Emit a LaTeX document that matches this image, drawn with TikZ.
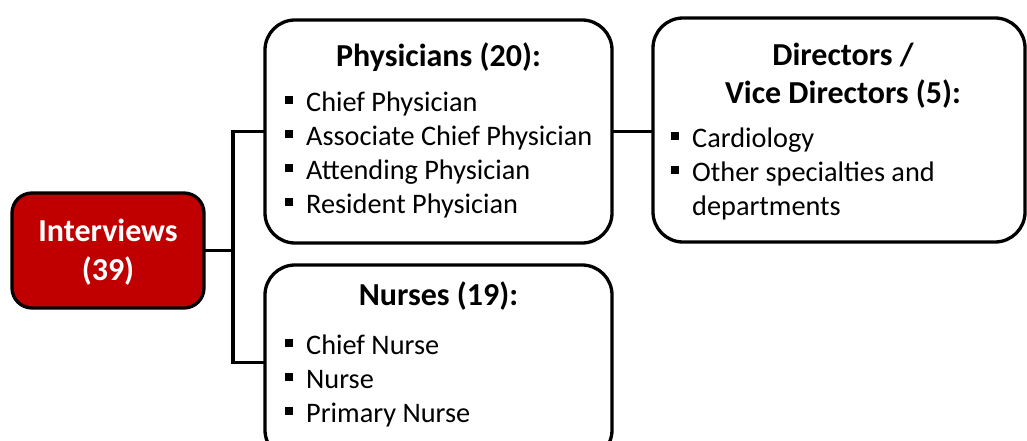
\documentclass[tikz,border=0pt]{standalone}
\usepackage{fontspec}
\setmainfont{Carlito}
\usetikzlibrary{positioning}

\definecolor{boxred}{RGB}{192,0,0}
% square bullet with its gap before the text
\newcommand{\sqitem}{\makebox[21pt][l]{\rule[7pt]{8pt}{8pt}}}

\tikzset{
  box/.style={draw, line width=3.3pt, rounded corners=30pt, outer sep=0pt, fill=white},
  rootbox/.style={box, fill=boxred, rounded corners=20pt},
  title/.style={font=\fontsize{32}{39}\selectfont\bfseries, align=center, inner sep=0pt},
  items/.style={font=\fontsize{28.3}{34}\selectfont, align=left, inner sep=0pt},
  link/.style={line width=3.3pt},
}

\begin{document}
\begin{tikzpicture}[x=1pt, y=-1pt]
  \clip (0,0) rectangle (1027,441);

  % boxes
  \node[rootbox, anchor=north west, minimum width=192pt, minimum height=115pt] (int) at (12,193) {};
  \node[box, anchor=north west, minimum width=347pt, minimum height=223pt] (phys) at (265,20) {};
  \node[box, anchor=north west, minimum width=372pt, minimum height=224pt] (dir) at (653,18) {};
  \node[box, anchor=north west, minimum width=347pt, minimum height=195pt] (nurse) at (265,265) {};

  % connectors
  \draw[link] (int.east) -- ++(29,0) coordinate (fork);
  \draw[link] (phys.west) -| (fork) |- (nurse.west);
  \draw[link] (phys.east) -- (phys.east -| dir.west);

  % texts (base = baseline of the last line)
  \node[title, text=white, anchor=base] (intt) at (108,280) {Interviews\\(39)};

  \node[title, anchor=base] (physt) at (438.5,67) {Physicians (20):};
  \node[items, anchor=base west] (physl) at (285,213)
    {\sqitem Chief Physician\\ \sqitem Associate Chief Physician\\
     \sqitem Attending Physician\\ \sqitem Resident Physician};

  \node[title, anchor=base] (dirt) at (843,104) {Directors /\\Vice Directors (5):};
  \node[items, anchor=base west] (dirl) at (671,215)
    {\sqitem Cardiology\\ \sqitem Other specialties and\\ \hspace*{21pt}departments};

  \node[title, anchor=base] (nurset) at (438.5,305) {Nurses (19):};
  \node[items, anchor=base west] (nursel) at (285,422)
    {\sqitem Chief Nurse\\ \sqitem Nurse\\ \sqitem Primary Nurse};
\end{tikzpicture}
\end{document}
